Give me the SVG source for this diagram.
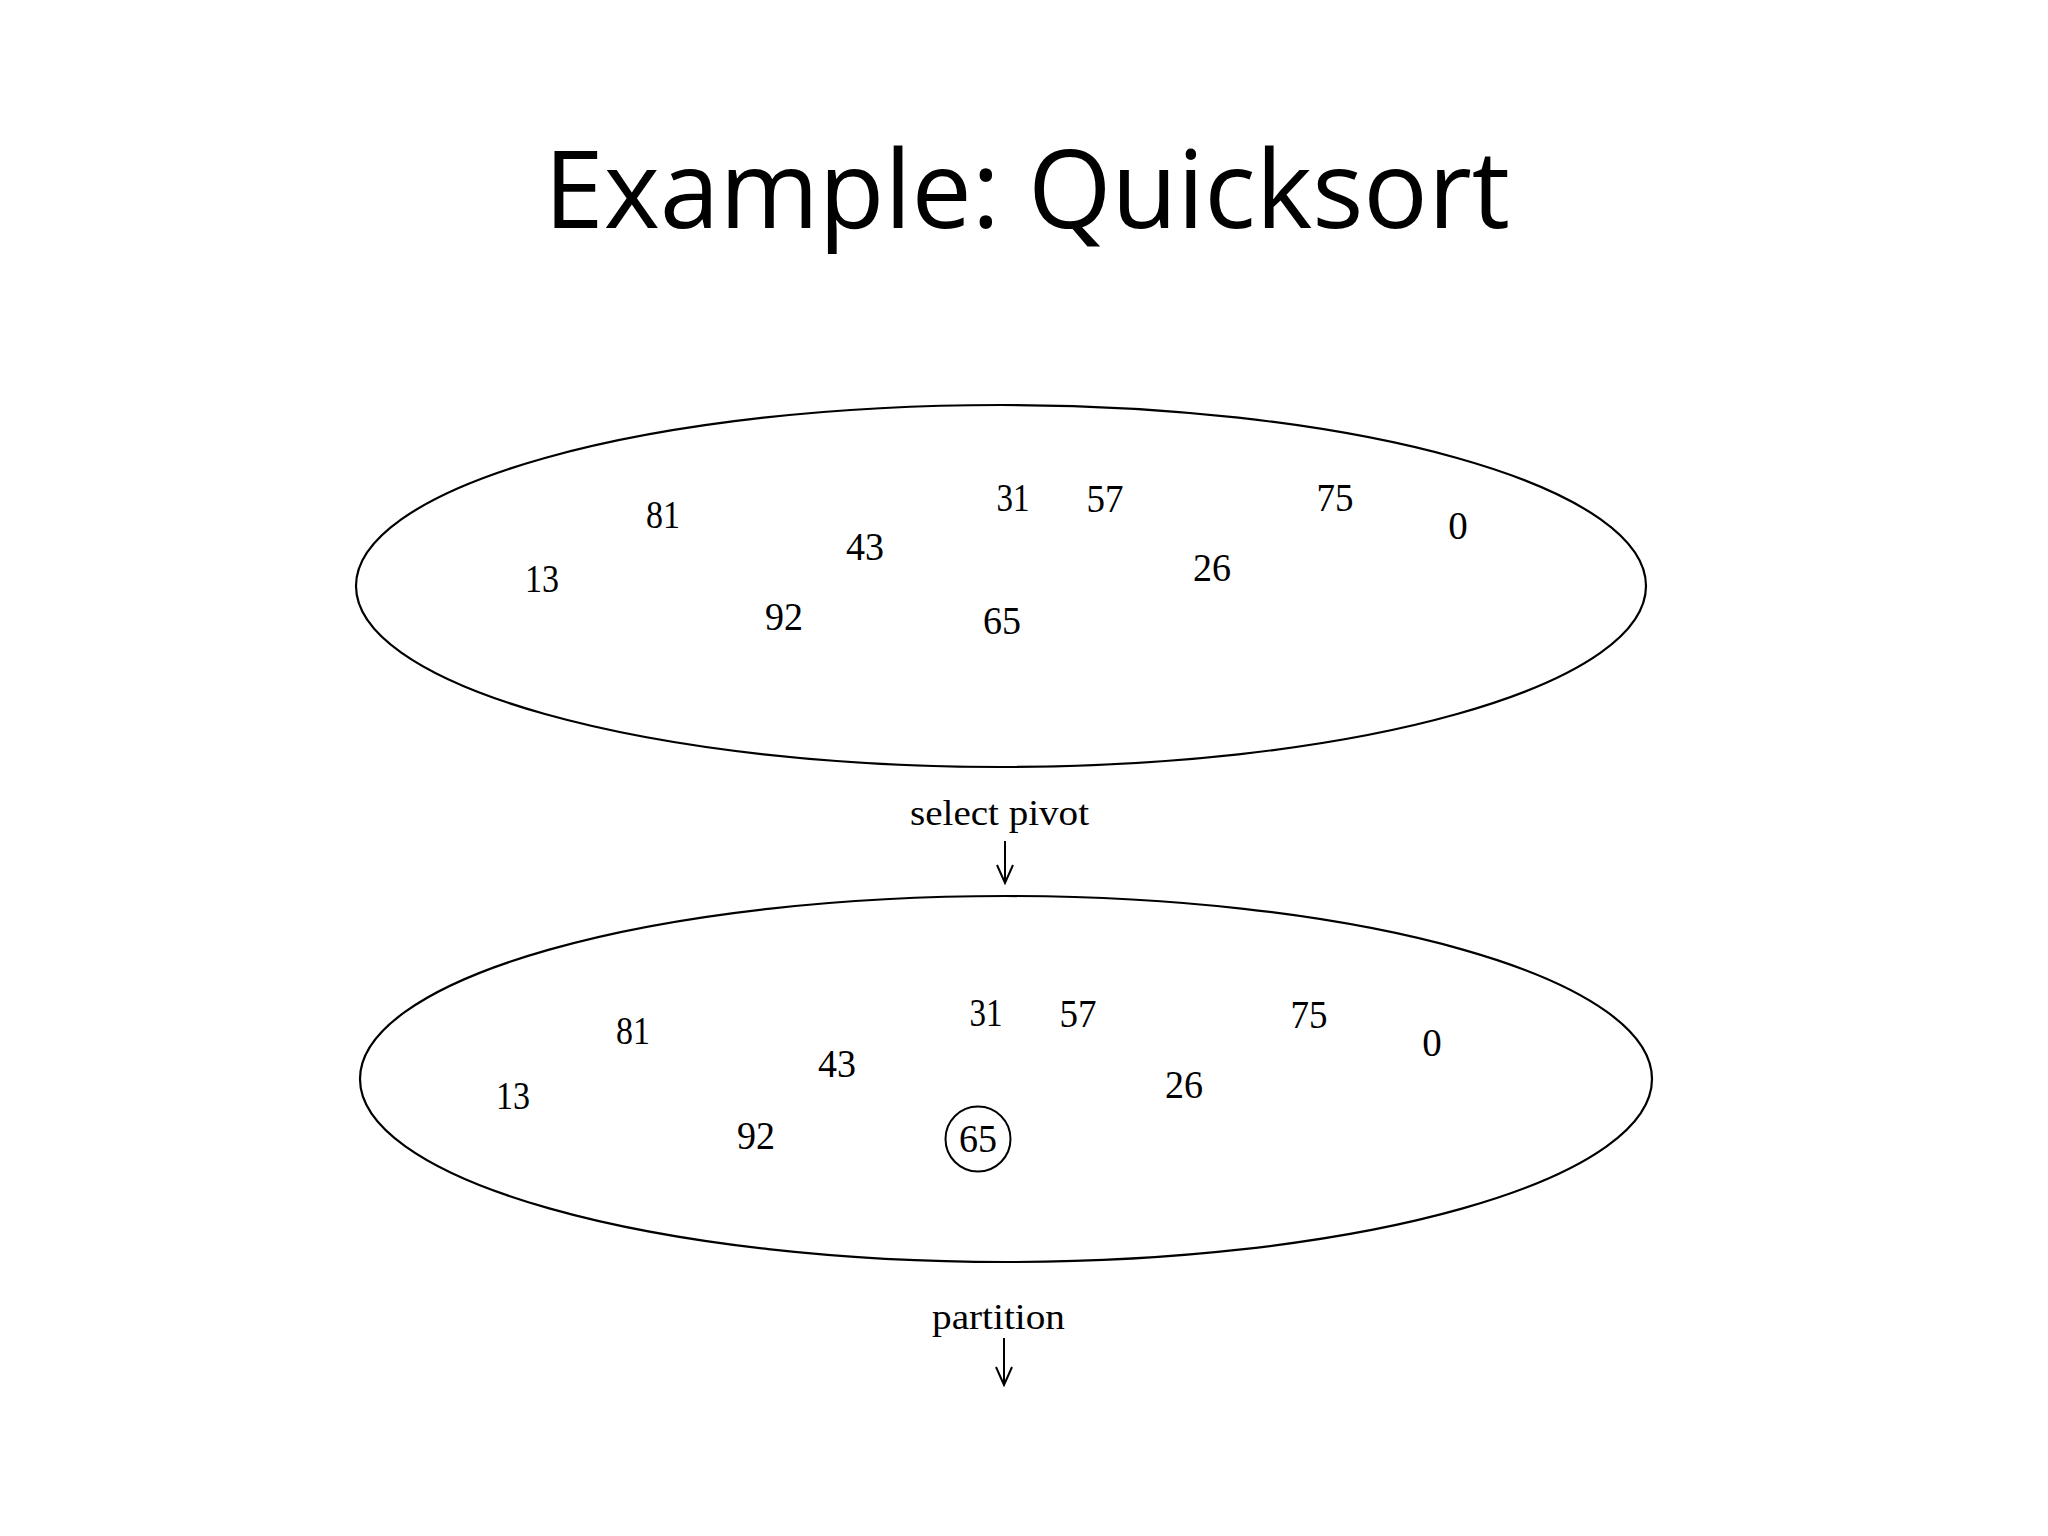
<svg xmlns="http://www.w3.org/2000/svg" width="2048" height="1536" viewBox="0 0 2048 1536">
  <style>
    .title { font-family: "Open Sans", "Liberation Sans", sans-serif; font-size: 108px; fill: #000; }
    .num { font-family: "Liberation Serif", "DejaVu Serif", serif; font-size: 39px; fill: #000; text-anchor: middle; }
    .lbl { font-family: "Liberation Serif", "DejaVu Serif", serif; font-size: 35px; fill: #000; }
    .set { fill: none; stroke: #000; stroke-width: 2.2; }
    .pivot { fill: none; stroke: #000; stroke-width: 2; }
    .conn { stroke: #000; stroke-width: 2; fill: none; }
  </style>
  <defs>
    <marker id="vhead" viewBox="-20 -10 22 20" markerWidth="22" markerHeight="20" refX="0" refY="0" orient="auto" markerUnits="userSpaceOnUse">
      <path d="M -18 -8 L 0 0 L -18 8" fill="none" stroke="#000" stroke-width="2"/>
    </marker>
  </defs>
  <rect width="2048" height="1536" fill="#fff"/>

  <text id="title" class="title" x="544" y="228" textLength="966" lengthAdjust="spacingAndGlyphs">Example: Quicksort</text>

  <g id="set-initial">
    <ellipse class="set" cx="1001" cy="586" rx="645" ry="181"/>
    <text class="num" x="663" y="528" textLength="34" lengthAdjust="spacingAndGlyphs">81</text>
    <text class="num" x="542" y="592" textLength="34" lengthAdjust="spacingAndGlyphs">13</text>
    <text class="num" x="865" y="560" textLength="38" lengthAdjust="spacingAndGlyphs">43</text>
    <text class="num" x="1013" y="511" textLength="33" lengthAdjust="spacingAndGlyphs">31</text>
    <text class="num" x="1105" y="512" textLength="37" lengthAdjust="spacingAndGlyphs">57</text>
    <text class="num" x="784" y="630" textLength="38" lengthAdjust="spacingAndGlyphs">92</text>
    <text class="num" x="1002" y="634" textLength="38" lengthAdjust="spacingAndGlyphs">65</text>
    <text class="num" x="1212" y="581" textLength="38" lengthAdjust="spacingAndGlyphs">26</text>
    <text class="num" x="1335" y="511" textLength="37" lengthAdjust="spacingAndGlyphs">75</text>
    <text class="num" x="1458" y="539">0</text>
  </g>

  <g id="label-select-pivot">
    <text class="lbl" x="910" y="825" textLength="179" lengthAdjust="spacingAndGlyphs">select pivot</text>
  </g>

  <g id="set-pivot">
    <ellipse class="set" cx="1006" cy="1079" rx="646" ry="183"/>
    <text class="num" x="633" y="1044" textLength="34" lengthAdjust="spacingAndGlyphs">81</text>
    <text class="num" x="513" y="1109" textLength="34" lengthAdjust="spacingAndGlyphs">13</text>
    <text class="num" x="837" y="1077" textLength="38" lengthAdjust="spacingAndGlyphs">43</text>
    <text class="num" x="986" y="1026" textLength="33" lengthAdjust="spacingAndGlyphs">31</text>
    <text class="num" x="1078" y="1027" textLength="37" lengthAdjust="spacingAndGlyphs">57</text>
    <text class="num" x="756" y="1149" textLength="38" lengthAdjust="spacingAndGlyphs">92</text>
    <g id="pivot-65">
      <circle class="pivot" cx="978" cy="1139" r="32.5"/>
      <text class="num" x="978" y="1152" textLength="38" lengthAdjust="spacingAndGlyphs">65</text>
    </g>
    <text class="num" x="1184" y="1098" textLength="38" lengthAdjust="spacingAndGlyphs">26</text>
    <text class="num" x="1309" y="1028" textLength="37" lengthAdjust="spacingAndGlyphs">75</text>
    <text class="num" x="1432" y="1056">0</text>
  </g>

  <g id="label-partition">
    <text class="lbl" x="932" y="1329" textLength="133" lengthAdjust="spacingAndGlyphs">partition</text>
  </g>

  <g id="connectors">
    <line class="conn" x1="1005" y1="841" x2="1005" y2="883" marker-end="url(#vhead)"/>
    <line class="conn" x1="1004" y1="1338" x2="1004" y2="1385" marker-end="url(#vhead)"/>
  </g>
</svg>
